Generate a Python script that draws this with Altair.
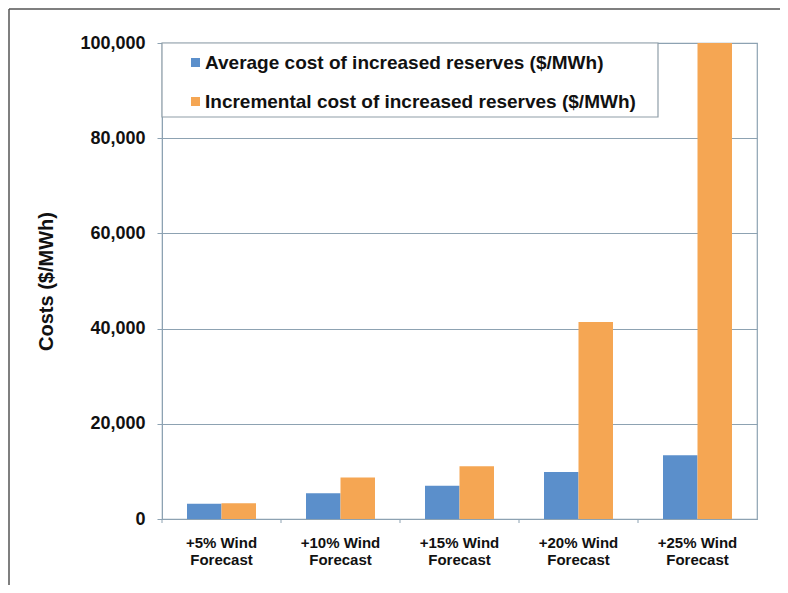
import altair as alt
import pandas as pd

categories = ["+5% Wind Forecast", "+10% Wind Forecast", "+15% Wind Forecast",
              "+20% Wind Forecast", "+25% Wind Forecast"]
series = ["Average cost of increased reserves ($/MWh)",
          "Incremental cost of increased reserves ($/MWh)"]
average_cost = [3200, 5400, 7000, 9900, 13400]
incremental_cost = [3300, 8700, 11100, 41400, 100000]
colors = ["#5b8fcb", "#f5a653"]

rows = []
for c, a, i in zip(categories, average_cost, incremental_cost):
    rows.append({"cat": c, "series": series[0], "value": a})
    rows.append({"cat": c, "series": series[1], "value": i})
df = pd.DataFrame(rows)

W, H = 595, 476
PL, PT, PR, PB = 154, 35, 23, 66
FONT = "Liberation Sans"
GRID = "#8da2b2"

bars = alt.Chart(df).mark_bar().encode(
    x=alt.X("cat:N", sort=categories, title=None,
            scale=alt.Scale(paddingInner=0, paddingOuter=0),
            axis=alt.Axis(labelExpr="[replace(datum.label, ' Forecast', ''), 'Forecast']",
                          labelAngle=0, ticks=False, domain=False, labelPadding=16,
                          labelFontSize=15, labelFontWeight="bold", labelColor="#111111",
                          labelFont=FONT, labelLineHeight=17, labelBaseline="top")),
    xOffset=alt.XOffset("series:N", sort=series,
                        scale=alt.Scale(paddingOuter=0.725, paddingInner=0)),
    y=alt.Y("value:Q", title="Costs ($/MWh)",
            scale=alt.Scale(domain=[0, 100000], nice=False),
            axis=alt.Axis(values=[0, 20000, 40000, 60000, 80000, 100000], format=",d",
                          grid=True, gridColor=GRID, gridWidth=1, domainColor=GRID,
                          tickColor=GRID, tickSize=5, labelPadding=12,
                          labelFontSize=18, labelFontWeight="bold", labelColor="#111111",
                          labelFont=FONT, titleFont=FONT, titleFontSize=20,
                          titleFontWeight="bold", titleColor="#111111", titlePadding=23)),
    color=alt.Color("series:N", sort=series,
                    scale=alt.Scale(domain=series, range=colors),
                    legend=alt.Legend(title=None, orient="none", legendX=24, legendY=10,
                                      symbolType="square", symbolSize=81,
                                      symbolStrokeWidth=0, labelFontSize=19,
                                      labelFontWeight="bold", labelFont=FONT,
                                      labelColor="#111111", labelLimit=0,
                                      labelOffset=0, rowPadding=19, padding=0)),
)

one = pd.DataFrame({"k": [0]})
legend_box = alt.Chart(one).mark_rect(fill="white", stroke="#8f9ea8", strokeWidth=1.2).encode(
    x=alt.value(0), x2=alt.value(496), y=alt.value(0), y2=alt.value(74))

tick_df = pd.DataFrame({"cat": categories})
xticks = alt.Chart(tick_df).mark_rule(color=GRID).encode(
    x=alt.X("cat:N", sort=categories, bandPosition=0),
    y=alt.value(H), y2=alt.value(H + 4))

frame_top = alt.Chart(one).mark_rule(color="#555555", strokeWidth=1.5).encode(
    x=alt.value(-PL + 1), x2=alt.value(W + PR), y=alt.value(-PT + 1))
frame_left = alt.Chart(one).mark_rule(color="#555555", strokeWidth=1.5).encode(
    x=alt.value(-PL + 1), y=alt.value(-PT + 1), y2=alt.value(H + PB))

chart = alt.layer(bars, xticks, legend_box, frame_top, frame_left).properties(
    width=W, height=H,
    autosize=alt.AutoSizeParams(type="none"),
    padding={"left": PL, "top": PT, "right": PR, "bottom": PB},
    background="white",
).configure_view(stroke=GRID, strokeWidth=1.2)

chart.save("out.html", embed_options={"renderer": "svg", "actions": False})
